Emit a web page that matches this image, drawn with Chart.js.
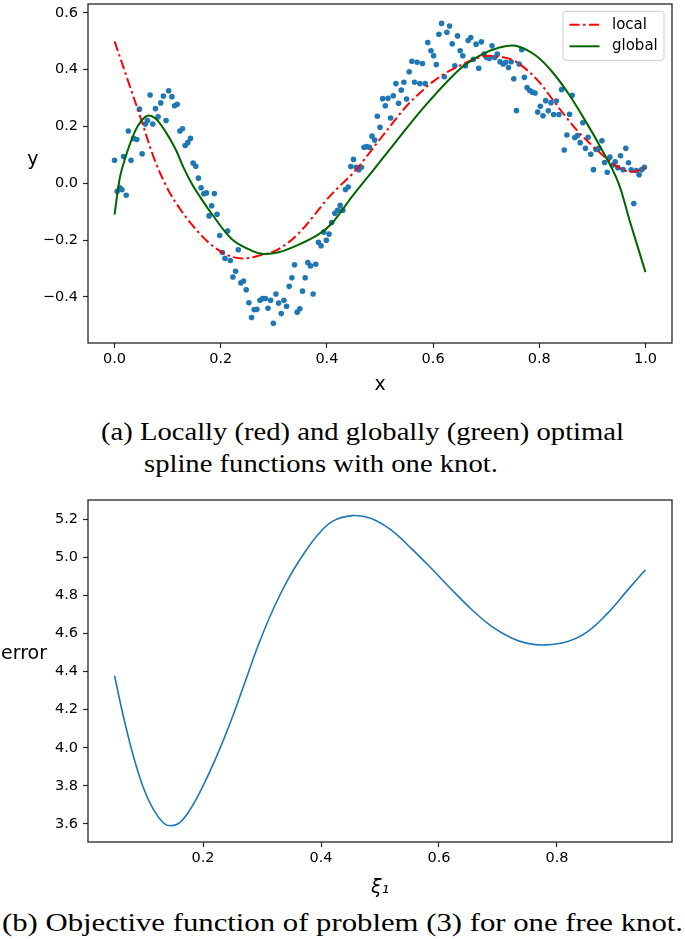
<!DOCTYPE html>
<html><head><meta charset="utf-8">
<script src="https://cdn.jsdelivr.net/npm/chart.js@4.4.0/dist/chart.umd.min.js"></script>
<style>
html,body{margin:0;padding:0;background:#fff;width:685px;height:939px;overflow:hidden;position:relative;}
#c1{position:absolute;left:0;top:0;}
#c2{position:absolute;left:0;top:495px;}
.cap{position:absolute;white-space:nowrap;font-family:"Liberation Serif";font-size:26px;color:#000;transform-origin:0 50%;line-height:26px;}
</style></head><body>
<canvas id="c1" width="685" height="400"></canvas>
<canvas id="c2" width="685" height="410"></canvas>
<div class="cap" id="capA1">(a) Locally (red) and globally (green) optimal</div>
<div class="cap" id="capA2">spline functions with one knot.</div>
<div class="cap" id="capB">(b) Objective function of problem (3) for one free knot.</div>
<script>
// ---------- data: top chart ----------
const scatterX = [0.000,0.005,0.010,0.014,0.017,0.022,0.026,0.031,0.036,0.042,0.047,0.052,0.058,0.062,0.067,0.072,0.077,0.082,0.087,0.092,0.097,0.102,0.108,0.113,0.118,0.123,0.128,0.133,0.138,0.143,0.148,0.153,0.158,0.163,0.168,0.173,0.178,0.183,0.188,0.193,0.198,0.203,0.208,0.213,0.218,0.223,0.228,0.233,0.238,0.243,0.248,0.253,0.258,0.263,0.268,0.274,0.279,0.284,0.289,0.294,0.299,0.304,0.309,0.314,0.319,0.324,0.329,0.334,0.339,0.344,0.349,0.354,0.359,0.364,0.369,0.374,0.379,0.384,0.389,0.394,0.399,0.404,0.409,0.415,0.420,0.425,0.430,0.435,0.440,0.445,0.450,0.455,0.460,0.465,0.470,0.475,0.480,0.485,0.490,0.495,0.500,0.505,0.510,0.515,0.520,0.525,0.530,0.535,0.540,0.545,0.550,0.555,0.560,0.565,0.570,0.575,0.580,0.585,0.590,0.596,0.601,0.606,0.611,0.616,0.621,0.626,0.631,0.636,0.641,0.646,0.651,0.656,0.661,0.666,0.671,0.676,0.681,0.686,0.691,0.696,0.701,0.706,0.711,0.716,0.721,0.726,0.732,0.737,0.742,0.747,0.752,0.757,0.762,0.767,0.772,0.777,0.782,0.787,0.792,0.797,0.802,0.807,0.812,0.817,0.822,0.827,0.832,0.837,0.842,0.847,0.852,0.857,0.862,0.867,0.872,0.877,0.882,0.887,0.892,0.897,0.902,0.907,0.912,0.918,0.923,0.928,0.933,0.938,0.943,0.948,0.953,0.958,0.963,0.968,0.973,0.978,0.983,0.988,0.993,0.998];
const scatterY = [0.081,-0.028,-0.016,-0.023,0.094,-0.042,0.184,0.081,0.158,0.154,0.261,0.104,0.209,0.221,0.311,0.209,0.263,0.234,0.283,0.307,0.221,0.326,0.305,0.273,0.278,0.184,0.192,0.133,0.143,0.158,0.071,0.060,0.018,-0.016,-0.037,-0.034,-0.115,-0.079,-0.036,-0.109,-0.184,-0.244,-0.264,-0.168,-0.272,-0.330,-0.310,-0.234,-0.351,-0.344,-0.375,-0.421,-0.473,-0.445,-0.444,-0.412,-0.406,-0.406,-0.440,-0.412,-0.493,-0.390,-0.422,-0.459,-0.412,-0.433,-0.363,-0.333,-0.287,-0.454,-0.442,-0.380,-0.333,-0.279,-0.291,-0.390,-0.285,-0.208,-0.220,-0.172,-0.201,-0.179,-0.138,-0.106,-0.095,-0.078,-0.095,-0.022,-0.013,0.059,0.084,0.056,0.048,0.056,0.127,0.129,0.127,0.166,0.152,0.236,0.197,0.298,0.273,0.299,0.230,0.308,0.351,0.282,0.328,0.356,0.297,0.393,0.430,0.356,0.426,0.351,0.422,0.351,0.496,0.467,0.449,0.418,0.525,0.563,0.375,0.532,0.554,0.491,0.414,0.519,0.467,0.449,0.414,0.503,0.513,0.437,0.490,0.405,0.498,0.455,0.443,0.440,0.484,0.443,0.455,0.428,0.420,0.426,0.408,0.428,0.368,0.256,0.420,0.470,0.373,0.337,0.327,0.321,0.318,0.251,0.271,0.238,0.291,0.255,0.284,0.242,0.290,0.242,0.330,0.117,0.170,0.243,0.310,0.161,0.168,0.143,0.213,0.123,0.162,0.102,0.048,0.119,0.123,0.150,0.073,0.039,0.092,0.064,0.076,0.055,0.097,0.048,0.123,0.072,0.047,-0.071,0.045,0.030,0.048,0.056];

const localX = [0,0.025,0.05,0.075,0.1,0.125,0.15,0.175,0.2,0.225,0.25,0.275,0.3,0.325,0.35,0.375,0.4,0.425,0.45,0.475,0.5,0.525,0.55,0.575,0.6,0.625,0.65,0.675,0.7,0.725,0.75,0.775,0.8,0.825,0.85,0.875,0.9,0.925,0.95,0.975,1.0];
const localY = [0.50,0.363,0.225,0.085,-0.02,-0.095,-0.155,-0.205,-0.24,-0.261,-0.264,-0.253,-0.24,-0.212,-0.17,-0.115,-0.057,-0.008,0.037,0.095,0.155,0.215,0.272,0.318,0.358,0.39,0.414,0.435,0.448,0.446,0.434,0.402,0.356,0.295,0.234,0.178,0.132,0.09,0.055,0.04,0.055];

const globalX = [0,0.01,0.02,0.033,0.045,0.061,0.077,0.096,0.115,0.13,0.145,0.16,0.184,0.221,0.259,0.28,0.309,0.347,0.385,0.41,0.448,0.489,0.523,0.586,0.649,0.687,0.725,0.756,0.794,0.825,0.857,0.888,0.913,0.948,0.97,1.0];
const globalY = [-0.11,0.02,0.088,0.158,0.205,0.237,0.228,0.182,0.12,0.055,0.0,-0.045,-0.11,-0.197,-0.238,-0.249,-0.243,-0.216,-0.179,-0.14,-0.045,0.05,0.13,0.275,0.40,0.449,0.478,0.484,0.449,0.391,0.31,0.216,0.135,0.007,-0.13,-0.313];

const topXTicks = [0.0,0.2,0.4,0.6,0.8,1.0];
const topYTicks = [-0.4,-0.2,0.0,0.2,0.4,0.6];

// ---------- data: bottom chart ----------
const errX = [0.05,0.065,0.082,0.099,0.116,0.133,0.145,0.16,0.178,0.2,0.223,0.246,0.27,0.295,0.32,0.345,0.37,0.395,0.42,0.453,0.484,0.518,0.552,0.586,0.62,0.654,0.688,0.722,0.75,0.781,0.818,0.852,0.886,0.92,0.95];
const errY = [4.378,4.164,3.955,3.789,3.675,3.605,3.59,3.605,3.675,3.80,3.955,4.13,4.335,4.55,4.735,4.89,5.015,5.12,5.19,5.219,5.205,5.145,5.05,4.945,4.835,4.73,4.64,4.578,4.548,4.54,4.558,4.61,4.707,4.829,4.935];

const botXTicks = [0.2,0.4,0.6,0.8];
const botYTicks = [3.6,3.8,4.0,4.2,4.4,4.6,4.8,5.0,5.2];

const legendLabels = ['local','global'];
const xLabelTop = 'x', yLabelTop = 'y';
const xLabelBot = 'ξ₁', yLabelBot = 'error';

// ---------- helpers ----------
const FONT = 'DejaVu Sans';
const tickFont = {family: FONT, size: 14.5};
const AX = '#262626';
const pts = (xs, ys) => xs.map((x, i) => ({x, y: ys[i]}));
const fmt = v => (v < 0 ? '\u2212' : '') + Math.abs(v).toFixed(1);

const framePlugin = {
  id: 'frame',
  afterDatasetsDraw(chart) {
    const {ctx, chartArea: {left, top, right, bottom}} = chart;
    ctx.save(); ctx.strokeStyle = AX; ctx.lineWidth = 1.3;
    ctx.strokeRect(left, top, right - left, bottom - top); ctx.restore();
  }
};
const yTitlePlugin = {
  id: 'yTitle',
  afterDraw(chart, args, o) {
    const ctx = chart.ctx, a = chart.chartArea;
    ctx.save(); ctx.font = '19px "' + FONT + '"'; ctx.fillStyle = '#000';
    ctx.textAlign = 'right'; ctx.textBaseline = 'alphabetic';
    ctx.fillText(o.text, o.right, (a.top + a.bottom) / 2 + o.dy); ctx.restore();
  }
};
const legendPlugin = {
  id: 'boxLegend',
  afterDraw(chart, args, o) {
    if (!o.show) return;
    const ctx = chart.ctx, a = chart.chartArea;
    const bx = a.right - 8 - 101, by = a.top + 7.3, bw = 101, bh = 49;
    ctx.save();
    ctx.beginPath(); ctx.roundRect(bx, by, bw, bh, 3);
    ctx.fillStyle = 'rgba(255,255,255,0.8)'; ctx.fill();
    ctx.strokeStyle = '#cccccc'; ctx.lineWidth = 1; ctx.stroke();
    const items = chart.data.datasets.filter(d => legendLabels.includes(d.label))
      .sort((p, q) => legendLabels.indexOf(p.label) - legendLabels.indexOf(q.label));
    items.forEach((d, i) => {
      const y = by + 13.4 + i * 21.6;
      ctx.beginPath(); ctx.setLineDash(d.borderDash || []);
      ctx.strokeStyle = d.borderColor; ctx.lineWidth = d.borderWidth;
      ctx.moveTo(bx + 6.5, y); ctx.lineTo(bx + 36.5, y); ctx.stroke();
      ctx.setLineDash([]);
      ctx.fillStyle = '#000'; ctx.font = '15px "' + FONT + '"';
      ctx.textAlign = 'left'; ctx.textBaseline = 'middle';
      ctx.fillText(d.label, bx + 49, y);
    });
    ctx.restore();
  }
};

function axisX(min, max, tickVals, title, titlePad, height, italic) {
  return {
    type: 'linear', min, max,
    afterBuildTicks: s => { s.ticks = tickVals.map(v => ({value: v})); },
    afterFit: s => { s.height = height; s.paddingLeft = 0; s.paddingRight = 0; },
    ticks: {font: tickFont, color: '#000', padding: 3, maxRotation: 0, callback: fmt},
    grid: {display: true, drawOnChartArea: false, drawTicks: true, tickLength: 5, tickColor: AX, tickWidth: 1.2},
    border: {display: false},
    title: {display: true, text: title, color: '#000',
      font: {family: FONT, size: 19, style: italic ? 'italic' : 'normal'},
      padding: {top: 0, bottom: titlePad}}
  };
}
function axisY(min, max, tickVals) {
  return {
    type: 'linear', min, max,
    afterBuildTicks: s => { s.ticks = tickVals.map(v => ({value: v})); },
    afterFit: s => { s.width = 88; s.paddingTop = 0; s.paddingBottom = 0; },
    ticks: {font: tickFont, color: '#000', padding: 5, callback: fmt},
    grid: {display: true, drawOnChartArea: false, drawTicks: true, tickLength: 5, tickColor: AX, tickWidth: 1.2},
    border: {display: false}
  };
}

// ---------- top chart ----------
new Chart(document.getElementById('c1'), {
  type: 'scatter',
  data: {
    datasets: [
      {label: 'global', data: pts(globalX, globalY), showLine: true, borderColor: '#006400', borderWidth: 2,
        pointRadius: 0, tension: 0.35, fill: false},
      {label: 'local', data: pts(localX, localY), showLine: true, borderColor: '#ff0000', borderWidth: 2,
        borderDash: [10, 3.5, 2.5, 3.5], pointRadius: 0, tension: 0.35, fill: false},
      {label: 'data', data: pts(scatterX, scatterY), showLine: false, pointRadius: 2.8,
        backgroundColor: '#1f77b4', borderWidth: 0, pointBorderWidth: 0}
    ]
  },
  options: {
    responsive: false, animation: false, events: [],
    layout: {padding: {left: 0, right: 13, top: 1, bottom: 0}},
    scales: {
      x: axisX(-0.05, 1.05, topXTicks, xLabelTop, 4, 57, false),
      y: axisY(-0.5626, 0.6314, topYTicks)
    },
    plugins: {
      legend: {display: false}, tooltip: {enabled: false},
      yTitle: {text: yLabelTop, right: 38.5, dy: -9},
      boxLegend: {show: true}
    }
  },
  plugins: [framePlugin, yTitlePlugin, legendPlugin]
});

// ---------- bottom chart ----------
new Chart(document.getElementById('c2'), {
  type: 'scatter',
  data: {
    datasets: [
      {label: 'error', data: pts(errX, errY), showLine: true, borderColor: '#1f77b4', borderWidth: 1.6,
        pointRadius: 0, tension: 0.4, fill: false}
    ]
  },
  options: {
    responsive: false, animation: false, events: [],
    layout: {padding: {left: 0, right: 13, top: 5, bottom: 0}},
    scales: {
      x: axisX(0.005, 0.995, botXTicks, xLabelBot, 5.6, 63, true),
      y: axisY(3.505, 5.301, botYTicks)
    },
    plugins: {
      legend: {display: false}, tooltip: {enabled: false},
      yTitle: {text: yLabelBot, right: 47, dy: -12},
      boxLegend: {show: false}
    }
  },
  plugins: [framePlugin, yTitlePlugin, legendPlugin]
});

// ---------- captions ----------
function place() {
  const a1 = document.getElementById('capA1'), a2 = document.getElementById('capA2'), b = document.getElementById('capB');
  [a1, a2, b].forEach(e => e.style.transform = 'none');
  const ka = 523 / a1.getBoundingClientRect().width;
  const kb = 681 / b.getBoundingClientRect().width;
  a1.style.left = '101px'; a1.style.top = (432 - 13) + 'px'; a1.style.transform = 'scaleX(' + ka + ')';
  a2.style.left = '144px'; a2.style.top = (464 - 13) + 'px'; a2.style.transform = 'scaleX(' + ka + ')';
  b.style.left = '2px'; b.style.top = (923 - 13) + 'px'; b.style.transform = 'scaleX(' + kb + ')';
}
place();
if (document.fonts && document.fonts.ready) document.fonts.ready.then(place);
</script>
</body></html>
